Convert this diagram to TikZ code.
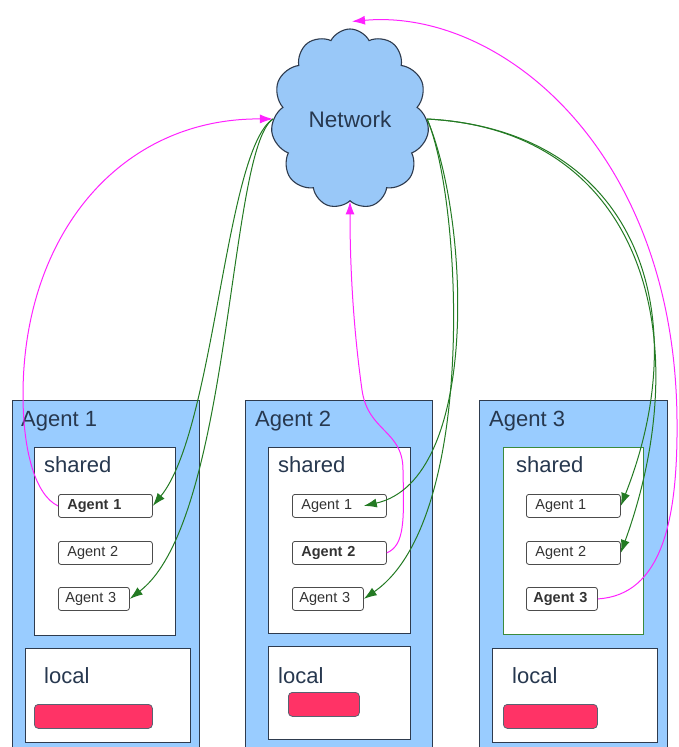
\documentclass[tikz,border=0pt]{standalone}
\usepackage{fontspec}
\setmainfont{Liberation Sans}
\usetikzlibrary{shapes.symbols,arrows.meta}
\definecolor{boxblue}{HTML}{99CCFF}
\definecolor{cloudblue}{HTML}{99C8F8}
\definecolor{edgegray}{HTML}{2E3B4E}
\definecolor{barred}{HTML}{FF3366}
\definecolor{linkgreen}{HTML}{237A23}
\definecolor{linkmag}{HTML}{FF22FF}
\definecolor{inkblue}{HTML}{27384F}
\definecolor{sharedgreen}{HTML}{3C8A3C}
\tikzset{
  agentbox/.style={draw=edgegray, fill=boxblue, line width=1.2pt, anchor=north west,
    inner sep=0pt, minimum height=360pt},
  panel/.style={draw=edgegray, fill=white, line width=1.1pt, anchor=north west, inner sep=0pt},
  bar/.style={draw=edgegray!80, fill=barred, rounded corners=4pt, line width=0.8pt,
    anchor=north west, inner sep=0pt, minimum height=24pt},
  slot/.style={draw=black!70, fill=white, rounded corners=2.5pt, line width=0.8pt,
    anchor=north west, minimum height=23pt, inner xsep=9pt, inner ysep=0pt, align=left,
    font=\fontsize{14.5}{16}\selectfont, text=black!80, text width=76pt},
  shortslot/.style={slot, inner xsep=7pt, text width=57pt},
  heading/.style={anchor=base west, inner sep=0pt, font=\fontsize{22}{26}\selectfont, text=inkblue},
  glink/.style={draw=linkgreen, line width=1pt, -{Latex[length=13pt,width=9pt]}},
  mlink/.style={draw=linkmag, line width=1pt, -{Latex[length=13pt,width=9pt]}},
}
\begin{document}
\begin{tikzpicture}[x=1pt,y=-1pt]
\clip (0,0) rectangle (678,747);
\fill[white] (0,0) rectangle (678,747);

% network cloud
\node[cloud, cloud puffs=11, cloud puff arc=125, aspect=0.88, draw=edgegray, fill=cloudblue,
  line width=1.1pt, minimum width=158pt, minimum height=180pt, inner sep=0pt,
  font=\fontsize{22.5}{26}\selectfont, text=inkblue] (net) at (350,119) {Network};

% agent containers
\node[agentbox, minimum width=187pt] (ag1) at (12,400) {};
\node[agentbox, minimum width=187pt] (ag2) at (245,400) {};
\node[agentbox, minimum width=188pt] (ag3) at (479,400) {};

% shared and local panels
\node[panel, minimum width=141pt, minimum height=188pt] (sh1) at (34,447) {};
\node[panel, minimum width=142pt, minimum height=186pt] (sh2) at (268,447) {};
\node[panel, draw=sharedgreen, minimum width=140pt, minimum height=187pt] (sh3) at (503,447) {};
\node[panel, minimum width=165pt, minimum height=94pt] (lo1) at (25,648) {};
\node[panel, minimum width=142pt, minimum height=93pt] (lo2) at (268,646) {};
\node[panel, minimum width=165pt, minimum height=94pt] (lo3) at (492,648) {};

% local data bars
\node[bar, minimum width=118pt] (rb1) at (34,704) {};
\node[bar, minimum width=71pt] (rb2) at (288,692) {};
\node[bar, minimum width=94pt] (rb3) at (503,704) {};

% headings
\node[heading] (t1) at (21,426) {Agent 1};
\node[heading] (t2) at (255,426) {Agent 2};
\node[heading] (t3) at (489,426) {Agent 3};
\node[heading] (s1) at (44,472) {shared};
\node[heading] (s2) at (278,472) {shared};
\node[heading] (s3) at (516,472) {shared};
\node[heading] (l1) at (44,683) {local};
\node[heading] (l2) at (278,683) {local};
\node[heading] (l3) at (512,683) {local};

% shared slots
\node[slot] (a1s1) at (58,494) {\textbf{Agent 1}};
\node[slot] (a1s2) at (58,541) {Agent 2};
\node[shortslot] (a1s3) at (58,587) {Agent 3};
\node[slot] (a2s1) at (292,494) {Agent 1};
\node[slot] (a2s2) at (292,541) {\textbf{Agent 2}};
\node[shortslot] (a2s3) at (292,587) {Agent 3};
\node[slot] (a3s1) at (526,494) {Agent 1};
\node[slot] (a3s2) at (526,541) {Agent 2};
\node[shortslot] (a3s3) at (526,587) {\textbf{Agent 3}};

% updates sent to the network
\draw[mlink] (a1s1.west) .. controls (35,495) and (23,450) .. (23,395)
  .. controls (23,235) and (120,118) .. (net.west);
\draw[mlink] (a2s2.east) .. controls (405,545) and (404,520) .. (403,470)
  .. controls (403,430) and (368,432) .. (362,390)
  .. controls (355,340) and (350,280) .. (net.south);
\draw[mlink] (a3s3.east) .. controls (662,595) and (678,520) .. (677,420)
  .. controls (675,150) and (500,8) .. ([xshift=2pt,yshift=7pt]net.north);

% updates received from the network
\draw[glink] (net.west) .. controls (225,150) and (215,430) .. (a1s1.east);
\draw[glink] (net.west) .. controls (228,150) and (232,520) .. (a1s3.east);
\draw[glink] (net.east) .. controls (470,220) and (480,480) .. ([xshift=-23pt]a2s1.east);
\draw[glink] (net.east) .. controls (462,200) and (478,520) .. (a2s3.east);
\draw[glink] (net.east) .. controls (635,130) and (698,310) .. (a3s1.east);
\draw[glink] (net.east) .. controls (645,130) and (698,340) .. (a3s2.east);
\end{tikzpicture}
\end{document}
